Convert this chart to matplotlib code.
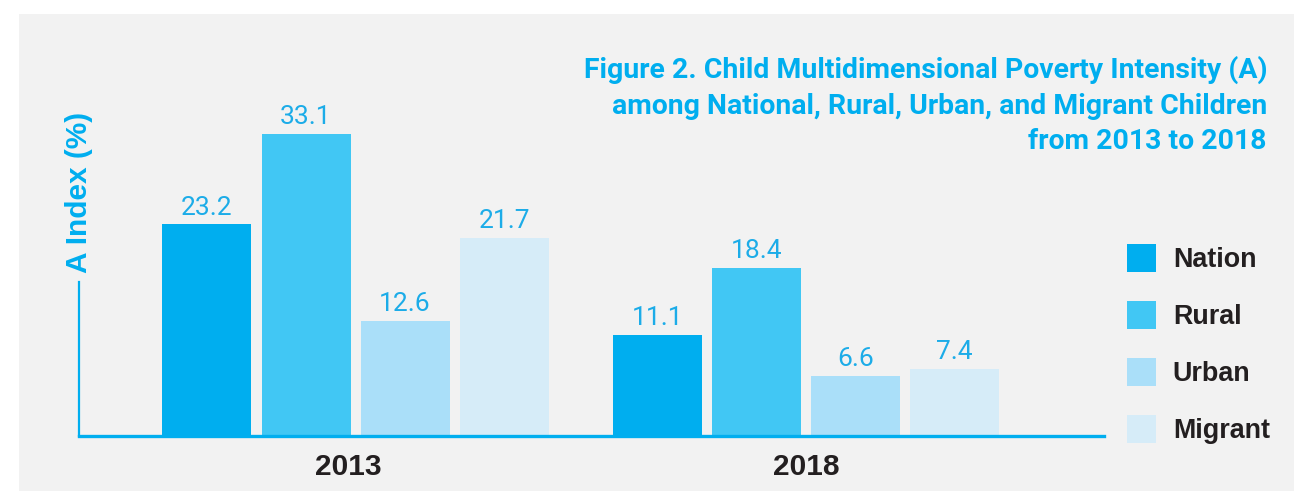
import matplotlib
matplotlib.use("Agg")
import matplotlib.pyplot as plt
from matplotlib.patches import Rectangle
from matplotlib.transforms import ScaledTranslation
import numpy as np

years = ["2013", "2018"]
series = ["Nation", "Rural", "Urban", "Migrant"]
values = {
    "Nation": [23.2, 11.1],
    "Rural": [33.1, 18.4],
    "Urban": [12.6, 6.6],
    "Migrant": [21.7, 7.4],
}
colors = ["#00aeef", "#41c7f4", "#aadff9", "#d6ecf8"]
title = ("Figure 2. Child Multidimensional Poverty Intensity (A)\n"
         "among National, Rural, Urban, and Migrant Children\n"
         "from 2013 to 2018")
ylabel = "A Index (%)"

W, H = 1294, 491
fig = plt.figure(figsize=(W / 100, H / 100), dpi=100)
fig.patch.set_facecolor("white")
fig.patches.append(Rectangle((19 / W, 0), 1 - 19 / W, 1 - 14 / H,
                             transform=fig.transFigure, facecolor="#f2f2f2",
                             edgecolor="none", zorder=-10))

ax = fig.add_axes([79 / W, 1 - 436 / H, 1025 / W, 336 / H])
ax.set_facecolor("none")

x = np.arange(len(years))
step = 99 / 450.5
width = 89 / 450.5
val_color = "#1cace8"
for i, (s, c) in enumerate(zip(series, colors)):
    pos = x + (i - 1.5) * step
    bars = ax.bar(pos, values[s], width=width, color=c, label=s, zorder=2)
    for b, v in zip(bars, values[s]):
        ax.annotate(f"{v:.1f}", (b.get_x() + b.get_width() / 2, v),
                    xytext=(0, 3.5), textcoords="offset points",
                    ha="center", va="bottom", color=val_color,
                    fontsize=19, family=["Roboto", "DejaVu Sans"],
                    fontweight="normal")

ax.set_xlim(-276.5 / 450.5, 1 + 298 / 450.5)
ax.set_ylim(0, 336 / 9.12)

for sp in ["top", "right"]:
    ax.spines[sp].set_visible(False)
ax.spines["left"].set_bounds(0, (436 - 282) / 9.12)
ax.spines["left"].set_color("#00aeef")
ax.spines["left"].set_linewidth(1.6)
ax.spines["bottom"].set_color("#00aeef")
ax.spines["bottom"].set_linewidth(2.4)
ax.set_yticks([])
ax.set_xticks(x)
ax.set_xticklabels(years, fontsize=21.5, fontweight="bold", color="#231f20",
                   family=["Liberation Sans", "DejaVu Sans"])
ax.tick_params(axis="x", length=0, pad=12)
lbl0 = ax.get_xticklabels()[0]
lbl0.set_transform(lbl0.get_transform() + ScaledTranslation(-7 / 100, 0, fig.dpi_scale_trans))

fig.text(79 / W, 1 - 192 / H, ylabel, rotation=90, ha="center", va="center",
         fontsize=21.5, fontweight="bold", color="#00aeef",
         family=["Liberation Sans", "DejaVu Sans"])

fig.text(1267 / W, 1 - 56 / H, title, ha="right", va="top", multialignment="right",
         fontsize=20.4, fontweight="bold", color="#00aeef", linespacing=1.4,
         family=["Liberation Sans Narrow", "Roboto", "DejaVu Sans"])

leg = fig.legend(loc="upper left", bbox_to_anchor=(1127 / W, 1 - 244 / H),
                 frameon=False, borderpad=0, borderaxespad=0,
                 handlelength=1.08, handleheight=1.22, handletextpad=0.62,
                 labelspacing=1.04,
                 prop={"family": ["Liberation Sans", "DejaVu Sans"],
                       "weight": "bold", "size": 19.4})
for t in leg.get_texts():
    t.set_color("#231f20")

fig.savefig("out.png", dpi=100)
